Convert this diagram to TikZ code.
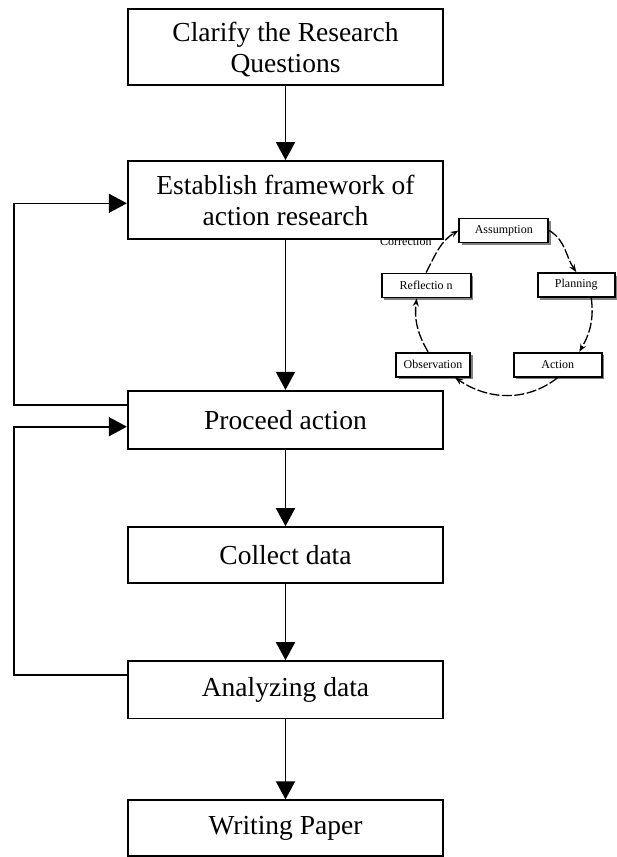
\documentclass[tikz,border=0pt]{standalone}
\usepackage{fontspec}
\setmainfont{Liberation Serif}
\usetikzlibrary{arrows.meta,calc,shadows}
\begin{document}
\begin{tikzpicture}[x=1pt,y=1pt,
  mainbox/.style={draw, line width=1.7pt, fill=white, minimum width=315.6pt, inner sep=0pt, align=center, font=\fontsize{27.5}{31}\selectfont},
  smallbox/.style={draw, line width=1.8pt, fill=white, inner sep=0pt, minimum height=24pt, font=\fontsize{12}{14}\selectfont, drop shadow={shadow xshift=2.5pt, shadow yshift=-2.5pt, fill=black!50, opacity=1}},
  conn/.style={line width=1.6pt, -{Triangle[width=19pt,length=18pt]}},
  cyc/.style={line width=1.3pt, dash pattern=on 10pt off 2.5pt, -{Stealth[width=6pt,length=8pt]}},
]
\useasboundingbox (0,0) rectangle (616,-857);
\node[font=\fontsize{12}{14}\selectfont, anchor=base] (corr) at (405.9,-245) {Correction};
\node[mainbox, minimum height=75.7pt, text depth=0pt] (clar) at (285.5,-46.9) {Clarify the Research\\Questions};
\node[mainbox, minimum height=78pt] (est) at (285.5,-200) {Establish framework of\\action research};
\node[mainbox, minimum height=58.3pt] (proc) at (285.5,-419.9) {Proceed action};
\node[mainbox, minimum height=55.7pt] (coll) at (285.5,-554.9) {Collect data};
\node[mainbox, minimum height=57.3pt] (anal) at (285.5,-689.7) {Analyzing data};
\node[mainbox, minimum height=55.7pt] (writ) at (285.5,-828.1) {Writing Paper};

\node[smallbox, minimum width=89pt] (assum) at (503.8,-230.5) {Assumption};
\node[smallbox, minimum width=89pt] (refl) at (426.2,-285.4) {Reflectio n};
\node[smallbox, minimum width=77pt] (plan) at (576.3,-285) {Planning};
\node[smallbox, minimum width=74pt] (obs) at (433,-364.7) {Observation};
\node[smallbox, minimum width=88.3pt] (act) at (557.8,-364.7) {Action};

\draw[conn] (clar) -- (est);
\draw[conn] (est) -- (proc);
\draw[conn] (proc) -- (coll);
\draw[conn] (coll) -- (anal);
\draw[conn] (anal) -- (writ);

\coordinate (lx) at (13.7,0);
\coordinate (s1) at ($(proc.west)+(0,15.2)$);
\coordinate (s2) at ($(anal.west)+(0,14.7)$);
\coordinate (e1) at ($(est.west)+(0,-3.3)$);
\coordinate (e2) at ($(proc.west)+(0,-6.8)$);
\draw[conn] (s1) -- (s1 -| lx) |- (e1);
\draw[conn] (s2) -- (s2 -| lx) |- (e2);

\draw[cyc] (refl.north) to[out=63,in=211] (assum.west);
\draw[cyc] (assum.east) to[out=-31,in=124] (plan.north);
\draw[cyc] ($(plan.south)+(15,0)$) to[out=-83,in=60] ($(act.north)+(21.5,0)$);
\draw[cyc] (act.south) to[out=218,in=-34] ($(obs.south)+(22,0)$);
\draw[cyc] ($(obs.north)+(-5,0)$) to[out=120,in=263] ($(refl.south)+(-9.5,0)$);
\end{tikzpicture}
\end{document}
